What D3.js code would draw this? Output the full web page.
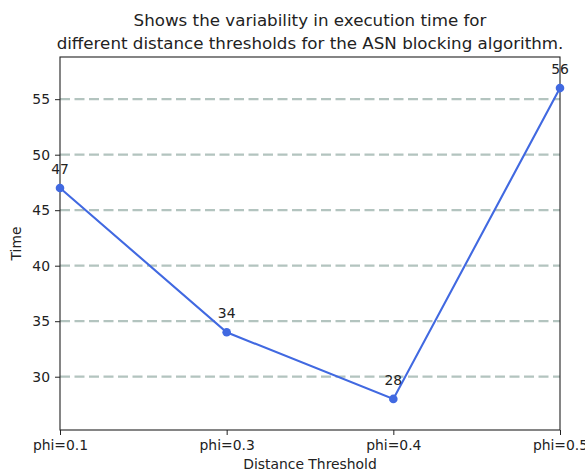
<!DOCTYPE html>
<html><head><meta charset="utf-8">
<script src="https://cdn.jsdelivr.net/npm/d3@7"></script>
<style>body{margin:0;background:#fff}svg text{font-family:"DejaVu Sans",sans-serif;fill:#222}</style>
</head><body><svg id="c" width="585" height="473"></svg>
<script>
const categories = ["phi=0.1","phi=0.3","phi=0.4","phi=0.5"];
const timeValues = [47,34,28,56];
const yTicks = [30,35,40,45,50,55];
const titleLines = ["Shows the variability in execution time for","different distance thresholds for the ASN blocking algorithm."];

const svg = d3.select("#c");
const m = {l:60, r:560, t:57, b:430};
const x = d3.scalePoint().domain(categories).range([m.l, m.r]).padding(0);
const y = d3.scaleLinear().domain([25.2, 58.8]).range([m.b, m.t]);

// grid
svg.append("g").selectAll("line").data(yTicks).join("line")
  .attr("x1", m.l).attr("x2", m.r).attr("y1", d=>y(d)).attr("y2", d=>y(d))
  .attr("stroke", "#b3c4bf").attr("stroke-width", 2.2).attr("stroke-dasharray", "10,4.5");

// axes
const ax = svg.append("g").attr("transform", `translate(0,${m.b})`)
  .call(d3.axisBottom(x).tickSize(5).tickPadding(5));
const ay = svg.append("g").attr("transform", `translate(${m.l},0)`)
  .call(d3.axisLeft(y).tickValues(yTicks).tickSize(5).tickPadding(5));
[ax, ay].forEach(a => {
  a.select(".domain").remove();
  a.selectAll("text").attr("font-size", 13.9).attr("fill", "#222").style("font-family", "DejaVu Sans");
  a.selectAll(".tick line").attr("stroke", "#222").attr("stroke-width", 1);
});
svg.append("rect").attr("x", m.l).attr("y", m.t).attr("width", m.r-m.l).attr("height", m.b-m.t)
  .attr("fill", "none").attr("stroke", "#222").attr("stroke-width", 1.1);

// line
const line = d3.line().x((d,i)=>x(categories[i])).y(d=>y(d));
svg.append("path").datum(timeValues).attr("d", line)
  .attr("fill", "none").attr("stroke", "#4169e1").attr("stroke-width", 2.1);
svg.append("g").selectAll("circle").data(timeValues).join("circle")
  .attr("cx", (d,i)=>x(categories[i])).attr("cy", d=>y(d)).attr("r", 4.3).attr("fill", "#4169e1");
svg.append("g").selectAll("text").data(timeValues).join("text")
  .attr("x", (d,i)=>x(categories[i])).attr("y", d=>y(d)-14)
  .attr("text-anchor", "middle").attr("font-size", 13.9).text(d=>d);

// titles
svg.append("text").attr("x", 310).attr("y", 26).attr("text-anchor", "middle").attr("font-size", 16.7).text(titleLines[0]);
svg.append("text").attr("x", 310).attr("y", 49).attr("text-anchor", "middle").attr("font-size", 16.7).text(titleLines[1]);
svg.append("text").attr("x", 310).attr("y", 469).attr("text-anchor", "middle").attr("font-size", 13.9).text("Distance Threshold");
svg.append("text").attr("transform", `translate(21,${(m.t+m.b)/2}) rotate(-90)`).attr("text-anchor", "middle").attr("font-size", 13.9).text("Time");
</script></body></html>
